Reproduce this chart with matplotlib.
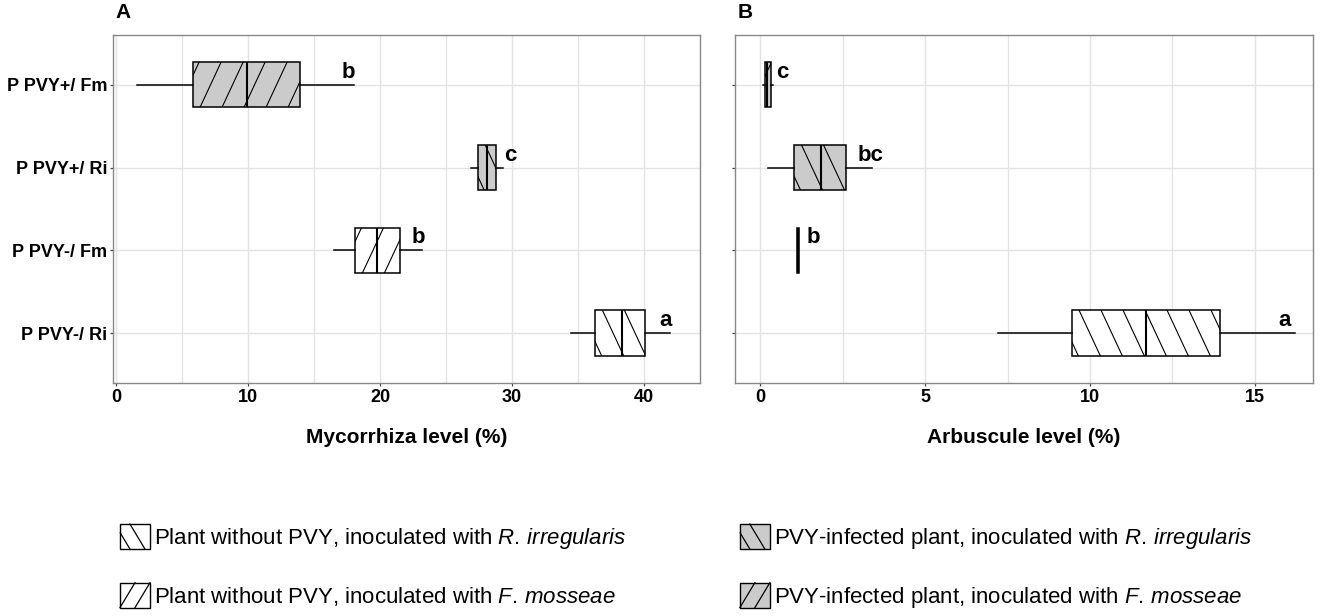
import numpy as np
import matplotlib
matplotlib.use('Agg')
import matplotlib.pyplot as plt
from matplotlib.patches import Patch, Rectangle
from matplotlib.lines import Line2D
from matplotlib.legend_handler import HandlerBase
from matplotlib.ticker import MultipleLocator

plt.rcParams['font.family'] = ['Liberation Sans', 'DejaVu Sans']
plt.rcParams['mathtext.fontset'] = 'custom'
plt.rcParams['mathtext.rm'] = 'Liberation Sans'
plt.rcParams['mathtext.it'] = 'Liberation Sans:italic'

# groups, bottom to top
groups = ['P PVY-/ Ri', 'P PVY-/ Fm', 'P PVY+/ Ri', 'P PVY+/ Fm']
infected = [False, False, True, True]
fungus = ['Ri', 'Fm', 'Ri', 'Fm']

# panel A - mycorrhiza level (%)
myc_lo = [34.5, 16.5, 26.9, 1.6]
myc_q1 = [36.3, 18.1, 27.4, 5.8]
myc_med = [38.3, 19.8, 28.1, 9.9]
myc_q3 = [40.1, 21.5, 28.8, 13.9]
myc_hi = [42.0, 23.2, 29.3, 18.0]
myc_letters = ['a', 'b', 'c', 'b']
myc_letter_x = [41.6, 22.9, 29.9, 17.6]

# panel B - arbuscule level (%)
arb_lo = [7.2, 1.12, 0.25, 0.08]
arb_q1 = [9.45, 1.12, 1.03, 0.15]
arb_med = [11.7, 1.15, 1.85, 0.22]
arb_q3 = [13.95, 1.18, 2.6, 0.32]
arb_hi = [16.2, 1.18, 3.4, 0.4]
arb_letters = ['a', 'b', 'bc', 'c']
arb_letter_x = [15.9, 1.6, 3.35, 0.68]

GRAY = '#cbcbcb'
HATCH_ANGLE = 65   # degrees
HATCH_STEP = 22    # px, horizontal spacing


def add_hatch(ax, patch, x0, x1, y0, y1, forward):
    bb = ax.get_window_extent()
    xl = ax.get_xlim()
    yl = ax.get_ylim()
    ppx = bb.width / (xl[1] - xl[0])
    ppy = bb.height / (yl[1] - yl[0])
    run = (y1 - y0) * ppy / np.tan(np.radians(HATCH_ANGLE)) / ppx
    step = HATCH_STEP / ppx
    for s in np.arange(x0 - run + step * 0.3, x1 + step, step):
        if forward:
            xs, ys = [s, s + run], [y0, y1]
        else:
            xs, ys = [s, s + run], [y1, y0]
        ln, = ax.plot(xs, ys, color='black', lw=0.8, zorder=3)
        ln.set_clip_path(patch)


class HatchKey(HandlerBase):
    # square legend key with two steep stripes, like the boxes
    def create_artists(self, legend, orig_handle, xdescent, ydescent, width, height, fontsize, trans):
        x0, y0 = -xdescent, -ydescent
        rect = Rectangle((x0, y0), width, height, facecolor=orig_handle.get_facecolor(),
                         edgecolor='black', lw=1.0, transform=trans)
        forward = orig_handle.get_hatch() == '/'
        run = 0.5 * width
        arts = [rect]
        for frac in ([0.0, 0.5] if forward else [-0.17, 0.33]):
            s = x0 + frac * width
            # clip the stripe to the key square
            t = np.linspace(0, 1, 60)
            xs = s + t * run
            ys = y0 + (t if forward else 1 - t) * height
            keep = (xs >= x0) & (xs <= x0 + width)
            ln = Line2D(xs[keep], ys[keep], color='black', lw=0.9, transform=trans)
            arts.append(ln)
        return arts


def panel(ax, lo, q1, med, q3, hi, letters, letter_x, xlim, major, minor, ylabels, title, xlabel):
    pos = np.arange(1, len(groups) + 1)
    stats = []
    for i in range(len(groups)):
        stats.append(dict(whislo=lo[i], q1=q1[i], med=med[i], q3=q3[i], whishi=hi[i], fliers=[]))
    ax.set_xlim(*xlim)
    ax.set_ylim(0.4, 4.6)
    w = 0.55
    bp = ax.bxp(stats, positions=pos, widths=w, orientation='horizontal', patch_artist=True,
                showcaps=False, showfliers=False, manage_ticks=False,
                boxprops=dict(edgecolor='black', linewidth=1.1),
                whiskerprops=dict(color='black', linewidth=1.1),
                medianprops=dict(color='black', linewidth=1.5))
    for i, b in enumerate(bp['boxes']):
        b.set_facecolor(GRAY if infected[i] else 'white')
        b.set_zorder(2)
        add_hatch(ax, b, q1[i], q3[i], pos[i] - w / 2, pos[i] + w / 2, fungus[i] == 'Fm')
    for m in bp['medians']:
        m.set_zorder(4)
    for i in range(len(groups)):
        ax.text(letter_x[i], pos[i] + 0.15, letters[i], fontsize=16, fontweight='bold',
                ha='center', va='center', zorder=5)

    ax.xaxis.set_major_locator(MultipleLocator(major))
    ax.xaxis.set_minor_locator(MultipleLocator(minor))
    ax.set_yticks(pos)
    ax.set_yticklabels(groups if ylabels else [])
    ax.grid(which='major', color='#e3e3e3', lw=1.0, zorder=0)
    ax.grid(which='minor', axis='x', color='#e3e3e3', lw=0.9, zorder=0)
    ax.set_axisbelow(True)
    ax.tick_params(which='major', length=2.5, color='#444444', width=0.9, labelsize=13, pad=1.5)
    ax.tick_params(which='minor', length=0)
    for lab in ax.get_xticklabels() + ax.get_yticklabels():
        lab.set_fontweight('bold')
    for sp in ax.spines.values():
        sp.set_color('#888888')
        sp.set_linewidth(1.0)
    ax.set_xlabel(xlabel, fontsize=15, fontweight='bold', labelpad=16)
    ax.text(0.005, 1.066, title, transform=ax.transAxes, fontsize=15, fontweight='bold',
            ha='left', va='center')


fig = plt.figure(figsize=(13.25, 6.16), dpi=100)
ax1 = fig.add_axes([113 / 1325, 1 - 383 / 616, 587 / 1325, 348 / 616])
ax2 = fig.add_axes([735 / 1325, 1 - 383 / 616, 578 / 1325, 348 / 616])

panel(ax1, myc_lo, myc_q1, myc_med, myc_q3, myc_hi, myc_letters, myc_letter_x,
      (-0.23, 44.24), 10, 5, True, 'A', 'Mycorrhiza level (%)')
panel(ax2, arb_lo, arb_q1, arb_med, arb_q3, arb_hi, arb_letters, arb_letter_x,
      (-0.76, 16.76), 5, 2.5, False, 'B', 'Arbuscule level (%)')

legend_labels = [
    r'Plant without PVY, inoculated with $\it{R.\,irregularis}$',
    r'Plant without PVY, inoculated with $\it{F.\,mosseae}$',
    r'PVY-infected plant, inoculated with $\it{R.\,irregularis}$',
    r'PVY-infected plant, inoculated with $\it{F.\,mosseae}$',
]
handles = [
    Patch(facecolor='white', edgecolor='black', hatch='\\', lw=1),
    Patch(facecolor='white', edgecolor='black', hatch='/', lw=1),
    Patch(facecolor=GRAY, edgecolor='black', hatch='\\', lw=1),
    Patch(facecolor=GRAY, edgecolor='black', hatch='/', lw=1),
]
fig.legend(handles, legend_labels, loc='upper left', bbox_to_anchor=(120 / 1325, 1 - 524 / 616),
           ncol=2, frameon=False, fontsize=16, handlelength=1.35, handleheight=1.35,
           handletextpad=0.2, labelspacing=1.43, columnspacing=5.1, borderpad=0, borderaxespad=0,
           handler_map={Patch: HatchKey()})

fig.savefig('out.png', dpi=100)
